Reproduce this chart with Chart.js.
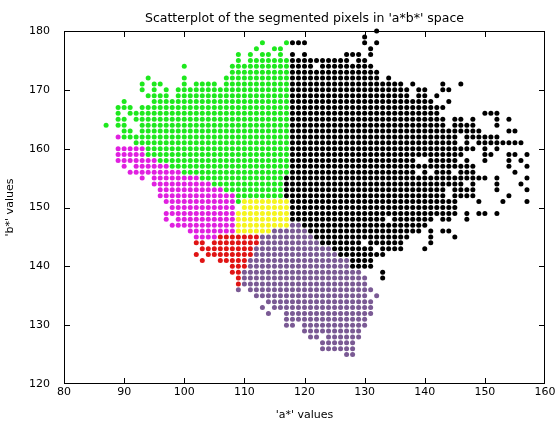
<!DOCTYPE html>
<html>
<head>
<meta charset="utf-8">
<script src="https://cdn.jsdelivr.net/npm/chart.js@4.4.0/dist/chart.umd.min.js"></script>
<style>
body { margin: 0; background: #fff; }
</style>
</head>
<body>
<canvas id="scatterChart" width="558" height="422"></canvas>
<script>
// every row: b* value, then pairs of (first a*, last a*)
var greenRows = [
    [178, 113,113, 117,117],
    [177, 112,112, 115,116],
    [176, 109,109, 111,111, 113,114, 116,116],
    [175, 109,109, 111,117],
    [174, 100,100, 108,117],
    [173, 108,117],
    [172, 94,94, 100,100, 107,117],
    [171, 93,93, 95,96, 100,100, 102,105, 107,117],
    [170, 93,93, 95,95, 97,97, 99,117],
    [169, 94,97, 99,117],
    [168, 90,90, 95,117],
    [167, 89,91, 93,117],
    [166, 89,89, 91,117],
    [165, 89,90, 92,117],
    [164, 87,87, 89,90, 93,117],
    [163, 90,91, 93,117],
    [162, 90,117],
    [161, 92,117],
    [160, 94,117],
    [159, 94,117],
    [158, 96,117],
    [157, 98,117],
    [156, 100,117],
    [155, 103,116],
    [154, 105,116],
    [153, 107,116],
    [152, 109,116],
    [151, 109,109]
];

var magentaRows = [
    [162, 89,89],
    [160, 89,93],
    [159, 89,93],
    [158, 89,95],
    [157, 90,90, 92,97],
    [156, 91,99],
    [155, 93,93, 95,102],
    [154, 95,104],
    [153, 96,106],
    [152, 96,108],
    [151, 97,108],
    [150, 98,108],
    [149, 97,108],
    [148, 97,97, 99,108],
    [147, 98,108],
    [146, 101,108],
    [145, 102,105]
];

var yellowRows = [
    [151, 110,117],
    [150, 110,117],
    [149, 109,117],
    [148, 109,117],
    [147, 109,117],
    [146, 109,114]
];

var redRows = [
    [145, 106,112],
    [144, 102,103, 105,112],
    [143, 103,111],
    [142, 102,102, 104,111],
    [141, 103,103, 106,110],
    [140, 108,110],
    [139, 108,109],
    [138, 109,109],
    [137, 109,109]
];

var purpleRows = [
    [147, 118,119],
    [146, 115,120],
    [145, 113,121],
    [144, 113,122],
    [143, 112,124],
    [142, 112,125],
    [141, 111,127],
    [140, 111,127],
    [139, 110,129],
    [138, 110,130],
    [137, 110,130],
    [136, 109,109, 111,131],
    [135, 112,130, 132,132],
    [134, 114,131],
    [133, 113,113, 115,131],
    [132, 114,114, 117,131],
    [131, 117,130],
    [130, 117,118, 120,130],
    [129, 120,129],
    [128, 121,122, 124,129],
    [127, 123,128],
    [126, 123,128],
    [125, 127,128]
];

var blackRows = [
    [180, 132,132],
    [179, 130,130],
    [178, 118,120, 130,130, 132,132],
    [177, 131,131],
    [176, 118,118, 120,120, 127,129, 131,131],
    [175, 118,127, 129,130],
    [174, 118,121, 123,131],
    [173, 118,132],
    [172, 118,132, 134,134],
    [171, 118,136, 138,138, 143,143, 146,146],
    [170, 118,137, 139,140, 143,144],
    [169, 118,137, 139,140, 142,142],
    [168, 118,141, 144,144],
    [167, 118,143],
    [166, 118,142, 150,150, 151,152],
    [165, 118,143, 145,146, 148,148, 152,152, 154,154],
    [164, 118,143, 145,148, 152,152],
    [163, 118,149, 154,155],
    [162, 118,145, 147,152],
    [161, 118,145, 147,147, 149,156],
    [160, 118,148, 150,150, 152,152],
    [159, 118,146, 150,151, 154,155, 157,157],
    [158, 118,138, 141,145, 147,147, 150,150, 154,154, 156,156],
    [157, 118,148, 154,154, 157,157],
    [156, 118,138, 140,140, 142,144, 146,148, 155,155],
    [155, 117,150, 152,152, 157,157],
    [154, 117,146, 148,148, 152,152, 156,156],
    [153, 117,143, 145,148, 152,152, 157,157],
    [152, 117,143, 145,148, 154,154],
    [151, 118,145, 149,149, 153,153, 157,157],
    [150, 118,145],
    [149, 118,145, 147,147, 149,150, 152,152],
    [148, 118,133, 135,141, 143,144, 147,147],
    [147, 120,140],
    [146, 121,139, 141,141, 143,144],
    [145, 122,137, 141,141, 145,145],
    [144, 123,129, 131,136, 141,141],
    [143, 125,131, 133,136, 140,140],
    [142, 126,133],
    [141, 128,131],
    [140, 128,131],
    [139, 133,133],
    [138, 133,133]
];

var xTicks = [80, 90, 100, 110, 120, 130, 140, 150, 160];
var yTicks = [120, 130, 140, 150, 160, 170, 180];

function expandRows(rows) {
    var pts = [];
    for (var i = 0; i < rows.length; i++) {
        var b = rows[i][0];
        for (var j = 1; j < rows[i].length; j += 2) {
            for (var a = rows[i][j]; a <= rows[i][j + 1]; a++) {
                pts.push({ x: a, y: b });
            }
        }
    }
    return pts;
}

function cluster(rows, color) {
    return {
        data: expandRows(rows),
        pointStyle: 'circle',
        pointRadius: 2.5,
        pointBorderWidth: 0,
        backgroundColor: color,
        borderColor: color,
        clip: false
    };
}

// matlab style box with inward ticks on all four sides
var boxPlugin = {
    id: 'matlabBox',
    beforeDatasetsDraw: function (chart) {
        var ctx = chart.ctx, area = chart.chartArea;
        var xs = chart.scales.x, ys = chart.scales.y;
        var l = Math.round(area.left), r = Math.round(area.right) - 1;
        var t = Math.round(area.top), b = Math.round(area.bottom) - 1;
        ctx.save();
        ctx.fillStyle = '#000';
        ctx.fillRect(l, t, r - l + 1, 1);
        ctx.fillRect(l, b, r - l + 1, 1);
        ctx.fillRect(l, t, 1, b - t + 1);
        ctx.fillRect(r, t, 1, b - t + 1);
        xTicks.forEach(function (v) {
            var px = Math.min(Math.round(xs.getPixelForValue(v)), r);
            ctx.fillRect(px, b - 5, 1, 5);
            ctx.fillRect(px, t + 1, 1, 5);
        });
        yTicks.forEach(function (v) {
            var py = Math.min(Math.round(ys.getPixelForValue(v)), b);
            ctx.fillRect(l + 1, py, 5, 1);
            ctx.fillRect(r - 5, py, 5, 1);
        });
        ctx.restore();
    }
};

var font = { family: 'DejaVu Sans', size: 11 };

var ctx = document.getElementById('scatterChart').getContext('2d');
var chart = new Chart(ctx, {
    type: 'scatter',
    data: {
        datasets: [
            cluster(greenRows, '#1ee81e'),
            cluster(magentaRows, '#e020e0'),
            cluster(yellowRows, '#f5f51e'),
            cluster(redRows, '#e01414'),
            cluster(purpleRows, '#7a5a94'),
            cluster(blackRows, '#000000')
        ]
    },
    options: {
        responsive: false,
        animation: false,
        events: [],
        layout: { padding: { left: 0, right: 13, top: 0, bottom: 0 } },
        plugins: {
            legend: { display: false },
            tooltip: { enabled: false },
            title: {
                display: true,
                fullSize: false,
                text: "Scatterplot of the segmented pixels in 'a*b*' space",
                color: '#000',
                font: { family: 'DejaVu Sans', size: 12.5, weight: 'normal' },
                padding: { top: 11, bottom: 5 }
            }
        },
        scales: {
            x: {
                type: 'linear',
                min: 80,
                max: 160,
                grid: { display: false },
                border: { display: false },
                ticks: { stepSize: 10, color: '#000', font: font, padding: -6 },
                title: { display: true, text: "'a*' values", color: '#000', font: font, padding: { top: 0, bottom: 0 } },
                afterFit: function (s) { s.height = 38; }
            },
            y: {
                type: 'linear',
                min: 120,
                max: 180,
                grid: { display: false },
                border: { display: false },
                ticks: { stepSize: 10, color: '#000', font: font, padding: 6 },
                title: { display: true, text: "'b*' values", color: '#000', font: font, padding: { top: 4, bottom: 0 } },
                afterFit: function (s) { s.width = 64; }
            }
        }
    },
    plugins: [boxPlugin]
});
</script>
</body>
</html>
